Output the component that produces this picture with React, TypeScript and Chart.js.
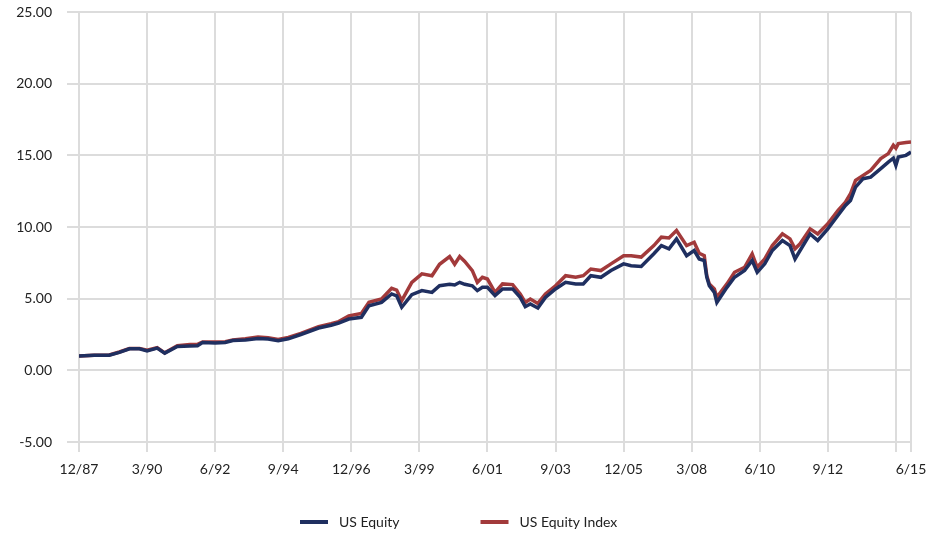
import React, { useEffect, useRef } from "react";
import { Chart, registerables } from "chart.js";

Chart.register(...registerables);

// months since 12/87
const months = [
  0, 6, 12, 16, 20, 24, 27, 31, 34, 39, 44, 47, 49, 54, 58, 61, 66, 71, 75, 79,
  83, 88, 95, 100, 103, 107, 112, 115, 120, 124, 126, 128, 132, 136, 140, 143, 147, 149, 151, 153,
  156, 158, 160, 162, 165, 168, 172, 175, 177, 179, 182, 185, 189, 193, 197, 200, 203, 207, 211, 216,
  219, 223, 228, 231, 234, 237, 241, 244, 246, 248, 249, 250, 252, 253, 257, 260, 264, 267, 269, 272,
  275, 279, 282, 284, 286, 290, 293, 297, 301, 304, 306, 308, 311, 314, 318, 321, 323, 324, 325, 328, 330,
];

const usEquity = [
  1.0, 1.05, 1.05, 1.25, 1.5, 1.5, 1.36, 1.55, 1.2, 1.67, 1.7, 1.72, 1.94, 1.9, 1.94, 2.08, 2.12, 2.22, 2.18, 2.06,
  2.2, 2.5, 2.95, 3.15, 3.3, 3.58, 3.7, 4.5, 4.74, 5.33, 5.2, 4.4, 5.28, 5.56, 5.44, 5.9, 6.0, 5.95, 6.14, 6.0,
  5.9, 5.56, 5.79, 5.79, 5.21, 5.68, 5.68, 5.09, 4.44, 4.63, 4.35, 5.09, 5.68, 6.14, 6.03, 6.03, 6.6, 6.49, 6.96, 7.43,
  7.3, 7.24, 8.13, 8.7, 8.48, 9.17, 8.0, 8.36, 7.77, 7.66, 6.5, 5.9, 5.44, 4.74, 5.79, 6.49, 6.96, 7.66, 6.84, 7.43,
  8.36, 9.06, 8.7, 7.77, 8.36, 9.52, 9.06, 9.87, 10.8, 11.5, 11.85, 12.78, 13.37, 13.48, 14.07, 14.53, 14.8, 14.3, 14.88, 15.0, 15.23,
];

const usEquityIndex = [
  1.0, 1.05, 1.07, 1.28, 1.52, 1.52, 1.4, 1.58, 1.22, 1.72, 1.8, 1.82, 1.98, 1.98, 2.0, 2.12, 2.2, 2.32, 2.28, 2.15,
  2.3, 2.58, 3.05, 3.25, 3.4, 3.8, 3.97, 4.74, 4.98, 5.72, 5.6, 4.86, 6.14, 6.73, 6.6, 7.4, 7.94, 7.4, 7.94, 7.6,
  6.96, 6.14, 6.49, 6.37, 5.44, 6.03, 5.98, 5.33, 4.74, 4.98, 4.67, 5.33, 5.9, 6.6, 6.49, 6.6, 7.07, 6.96, 7.43, 8.0,
  8.0, 7.9, 8.7, 9.29, 9.24, 9.76, 8.7, 8.94, 8.17, 8.0, 6.6, 6.03, 5.68, 5.09, 6.03, 6.84, 7.19, 8.13, 7.19, 7.77,
  8.7, 9.52, 9.17, 8.48, 8.83, 9.87, 9.52, 10.22, 11.15, 11.73, 12.32, 13.25, 13.6, 13.95, 14.77, 15.12, 15.7, 15.5, 15.82, 15.9, 15.93,
];

const tickMonths = [0, 27, 54, 81, 108, 135, 162, 189, 216, 243, 270, 297, 324, 330];
const tickLabels = ["12/87", "3/90", "6/92", "9/94", "12/96", "3/99", "6/01", "9/03", "12/05", "3/08", "6/10", "9/12", "", "6/15"];

const seriesNames = ["US Equity", "US Equity Index"];
const seriesColors = ["#1f2f60", "#a23a3b"];

const FONT = "Lato, 'Open Sans', sans-serif";

const legendPlugin = {
  id: "customLegend",
  afterDraw(chart: any) {
    const ctx = chart.ctx;
    const ds = chart.data.datasets;
    ctx.save();
    ctx.font = `14px ${FONT}`;
    ctx.textBaseline = "middle";
    const y = 522;
    let x = 300;
    ds.forEach((d: any) => {
      ctx.fillStyle = d.borderColor;
      ctx.fillRect(x, y - 2, 28, 4);
      ctx.fillStyle = "#222";
      ctx.textAlign = "left";
      ctx.fillText(d.label, x + 39, y);
      const w = ctx.measureText(d.label).width;
      x = x + 39 + w + 81;
    });
    ctx.restore();
  },
};

export default function App() {
  const ref = useRef<HTMLCanvasElement>(null);
  useEffect(() => {
    if (!ref.current) return;
    const mk = (vals: number[]) => months.map((m, i) => ({ x: m, y: vals[i] }));
    const chart = new Chart(ref.current, {
      type: "line",
      data: {
        datasets: [
          {
            label: seriesNames[0],
            data: mk(usEquity),
            borderColor: seriesColors[0],
            backgroundColor: seriesColors[0],
            borderWidth: 3.5,
            pointRadius: 0,
            tension: 0,
          },
          {
            label: seriesNames[1],
            data: mk(usEquityIndex),
            borderColor: seriesColors[1],
            backgroundColor: seriesColors[1],
            borderWidth: 3.5,
            pointRadius: 0,
            tension: 0,
          },
        ],
      },
      options: {
        animation: false,
        responsive: true,
        maintainAspectRatio: false,
        layout: { padding: { left: 0, right: 31, top: 12, bottom: 45 } },
        plugins: { legend: { display: false }, tooltip: { enabled: false } },
        scales: {
          x: {
            type: "linear",
            min: 0,
            max: 330,
            afterBuildTicks: (scale: any) => {
              scale.ticks = tickMonths.map((v) => ({ value: v }));
            },
            afterFit: (scale: any) => {
              scale.height = 50;
            },
            ticks: {
              autoSkip: false,
              maxRotation: 0,
              padding: 9,
              color: "#222",
              font: { family: FONT, size: 14 },
              callback: (v: any) => {
                const i = tickMonths.indexOf(Number(v));
                return i >= 0 ? tickLabels[i] : "";
              },
            },
            grid: { color: "#dcdcdc", lineWidth: 2, tickLength: 10, drawTicks: true },
            border: { color: "#dcdcdc", width: 2 },
          },
          y: {
            min: -5,
            max: 25,
            afterFit: (scale: any) => {
              scale.width = 79;
              scale.paddingTop = 0;
              scale.paddingBottom = 0;
            },
            ticks: {
              stepSize: 5,
              padding: 15,
              color: "#222",
              font: { family: FONT, size: 14 },
              callback: (v: any) => Number(v).toFixed(2),
            },
            grid: { color: "#dcdcdc", lineWidth: 2, tickLength: 12 },
            border: { color: "#dcdcdc", width: 2 },
          },
        },
      },
      plugins: [legendPlugin],
    });
    return () => chart.destroy();
  }, []);
  return (
    <div style={{ position: "fixed", left: 0, top: 0, width: 942, height: 537, background: "#fff" }}>
      <canvas ref={ref} />
    </div>
  );
}
